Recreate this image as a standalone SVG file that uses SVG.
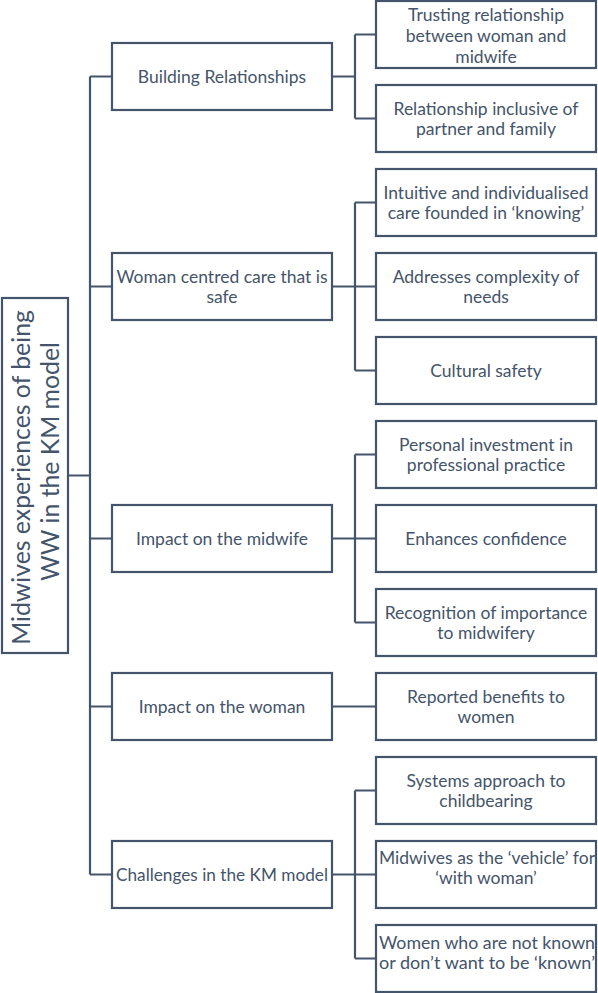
<svg xmlns="http://www.w3.org/2000/svg" width="598" height="993" viewBox="0 0 598 993">
<style>
.box{fill:#ffffff;stroke:#44546a;stroke-width:2.2}
.ln{fill:none;stroke:#44546a;stroke-width:2.2}
text{font-family:Lato,"Open Sans","Liberation Sans",sans-serif;font-size:17.5px;fill:#44546a;text-anchor:middle;dominant-baseline:central}
.root{font-size:24.8px}
</style>
<rect width="598" height="993" fill="#ffffff"/>
<g id="connectors">
<path class="ln" d="M68 475.5H90M90 76.5V874.5M90 76.5H112M90 286.5H112M90 538.5H112M90 706.5H112M90 874.5H112"/>
<path class="ln" d="M332 76.5H355M355 34.5V118.5M355 34.5H376M355 118.5H376"/>
<path class="ln" d="M332 286.5H376M355 202.5V370.5M355 202.5H376M355 370.5H376"/>
<path class="ln" d="M332 538.5H376M355 454.5V622.5M355 454.5H376M355 622.5H376"/>
<path class="ln" d="M332 706.5H376"/>
<path class="ln" d="M332 874.5H376M355 790.5V958.5M355 790.5H376M355 958.5H376"/>
</g>
<g id="root">
<rect class="box" x="2" y="298" width="66" height="355"/>
<text class="root" transform="translate(35,475.5) rotate(-90)"><tspan x="-2" y="-15">Midwives experiences of being</tspan><tspan x="14" y="14">WW in  the KM model</tspan></text>
</g>
<g id="m1"><rect class="box" x="112" y="43" width="220" height="67"/><text x="222" y="76.5">Building Relationships</text></g>
<g id="m2"><rect class="box" x="112" y="253" width="220" height="67"/><text x="222" y="276.5">Woman centred care that is</text><text x="222" y="296.5">safe</text></g>
<g id="m3"><rect class="box" x="112" y="505" width="220" height="67"/><text x="222" y="538.5">Impact on the midwife</text></g>
<g id="m4"><rect class="box" x="112" y="673" width="220" height="67"/><text x="222" y="706.5">Impact on the woman</text></g>
<g id="m5"><rect class="box" x="112" y="841" width="220" height="67"/><text x="222" y="874.5" textLength="212" lengthAdjust="spacingAndGlyphs">Challenges in the KM model</text></g>
<g id="r1"><rect class="box" x="376" y="1" width="220" height="67"/><text x="486" y="14">Trusting relationship</text><text x="486" y="35">between woman and</text><text x="486" y="56">midwife</text></g>
<g id="r2"><rect class="box" x="376" y="85" width="220" height="67"/><text x="486" y="108">Relationship inclusive of</text><text x="486" y="128.5">partner and family</text></g>
<g id="r3"><rect class="box" x="376" y="169" width="220" height="67"/><text x="486" y="192">Intuitive and individualised</text><text x="486" y="212.5">care founded in ‘knowing’</text></g>
<g id="r4"><rect class="box" x="376" y="253" width="220" height="67"/><text x="486" y="276">Addresses complexity of</text><text x="486" y="296.5">needs</text></g>
<g id="r5"><rect class="box" x="376" y="337" width="220" height="67"/><text x="486" y="370.5">Cultural safety</text></g>
<g id="r6"><rect class="box" x="376" y="421" width="220" height="67"/><text x="486" y="444">Personal investment in</text><text x="486" y="464.5">professional practice</text></g>
<g id="r7"><rect class="box" x="376" y="505" width="220" height="67"/><text x="486" y="538.5">Enhances confidence</text></g>
<g id="r8"><rect class="box" x="376" y="589" width="220" height="67"/><text x="486" y="612">Recognition of importance</text><text x="486" y="632.5">to midwifery</text></g>
<g id="r9"><rect class="box" x="376" y="673" width="220" height="67"/><text x="486" y="696">Reported benefits to</text><text x="486" y="716.5">women</text></g>
<g id="r10"><rect class="box" x="376" y="757" width="220" height="67"/><text x="486" y="780">Systems approach to</text><text x="486" y="800.5">childbearing</text></g>
<g id="r11"><rect class="box" x="376" y="841" width="220" height="67"/><text x="487" y="857" textLength="216" lengthAdjust="spacingAndGlyphs">Midwives as the ‘vehicle’ for</text><text x="486" y="877.5">‘with woman’</text></g>
<g id="r12"><rect class="box" x="376" y="925" width="220" height="67"/><text x="487" y="942" textLength="216" lengthAdjust="spacingAndGlyphs">Women who are not known</text><text x="487" y="962.5" textLength="216" lengthAdjust="spacingAndGlyphs">or don’t want to be ‘known’</text></g>
</svg>
